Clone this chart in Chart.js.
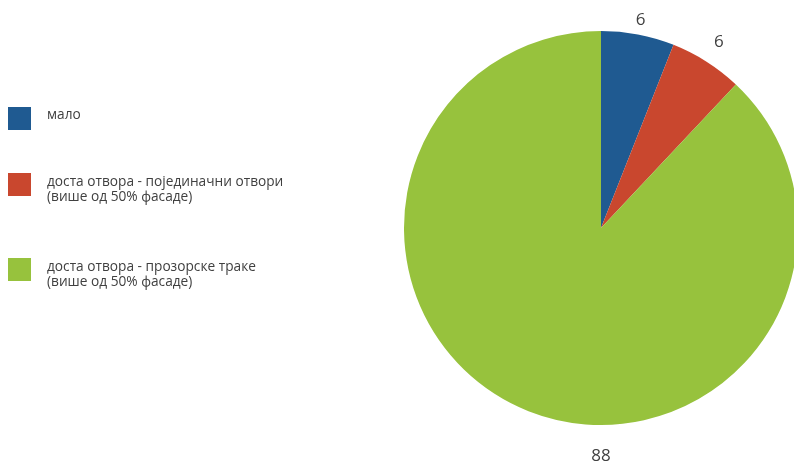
<!DOCTYPE html>
<html>
<head>
<meta charset="utf-8">
<script src="https://cdn.jsdelivr.net/npm/chart.js@4.4.1/dist/chart.umd.min.js"></script>
<style>
  html, body { margin: 0; padding: 0; background: #fff; overflow: hidden; }
  #wrap { position: relative; width: 794px; height: 464px; overflow: hidden; }
  #chart { position: absolute; left: 0; top: 0; }
  .legend-item { position: absolute; left: 8px; font-family: "Open Sans", sans-serif; font-size: 13.7px; line-height: 15px; color: #404040; }
  .legend-item .box { position: absolute; left: 0; top: 0; width: 23px; height: 23px; }
  .legend-item .txt { position: absolute; left: 39px; top: 0; white-space: nowrap; }
</style>
</head>
<body>
<div id="wrap">
  <canvas id="chart"></canvas>
  <div id="legend"></div>
</div>
<script>
// chart data
const categories = [
    'мало',
    'доста отвора - појединачни отвори\n(више од 50% фасаде)',
    'доста отвора - прозорске траке\n(више од 50% фасаде)'
];
const values = [6, 6, 88];
const colors = ['#1F5A91', '#C9472E', '#97C23D'];

// legend (html, left side)
const legendTops = [107, 173, 258];
const legendEl = document.getElementById('legend');
categories.forEach((cat, i) => {
    const item = document.createElement('div');
    item.className = 'legend-item';
    item.style.top = legendTops[i] + 'px';
    const lines = cat.split('\n');
    item.innerHTML = `<div class="box" style="background:${colors[i]}"></div>
        <div class="txt" style="top:${lines.length > 1 ? 0 : -1}px">${lines.join('<br>')}</div>`;
    legendEl.appendChild(item);
});

// value labels outside each slice
const outsideLabels = {
    id: 'outsideLabels',
    afterDatasetsDraw(chart, args, opts) {
        const ctx = chart.ctx;
        const meta = chart.getDatasetMeta(0);
        ctx.save();
        ctx.font = '17px "Open Sans", sans-serif';
        ctx.fillStyle = '#404040';
        ctx.textAlign = 'center';
        ctx.textBaseline = 'middle';
        meta.data.forEach((arc, i) => {
            const p = arc.getProps(['x', 'y', 'startAngle', 'endAngle', 'outerRadius'], true);
            let angle = (p.startAngle + p.endAngle) / 2;
            if (opts.angles && opts.angles[i] != null) angle = opts.angles[i];
            const r = p.outerRadius + (opts.offsets ? opts.offsets[i] : 16);
            ctx.fillText(String(values[i]), p.x + Math.cos(angle) * r, p.y + Math.sin(angle) * r);
        });
        ctx.restore();
    }
};

const canvas = document.getElementById('chart');
canvas.width = 810;
canvas.height = 464;
canvas.style.width = '810px';
canvas.style.height = '464px';

new Chart(canvas, {
    type: 'pie',
    data: {
        labels: categories,
        datasets: [{
            data: values,
            backgroundColor: colors,
            borderWidth: 0
        }]
    },
    options: {
        responsive: false,
        animation: false,
        layout: { padding: { left: 404, right: 12, top: 31, bottom: 39 } },
        plugins: {
            legend: { display: false },
            tooltip: { enabled: false },
            outsideLabels: { offsets: [15, 23, 31], angles: [null, null, Math.PI / 2] }
        }
    },
    plugins: [outsideLabels]
});
</script>
</body>
</html>
